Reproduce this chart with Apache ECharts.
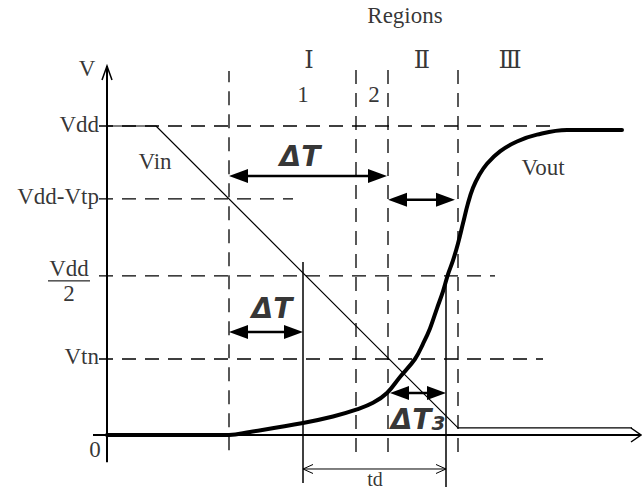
<!DOCTYPE html>
<html><head><meta charset="utf-8">
<script src="https://cdn.jsdelivr.net/npm/echarts@6/dist/echarts.min.js"></script>
<style>html,body{margin:0;padding:0;background:#fff}#c{width:642px;height:490px}</style>
</head><body><div id="c"></div>
<script>
// ---------------- data (time in arbitrary units, voltage as fraction of Vdd) ----------------
const vinTime = [0, 4.9, 35.1, 52.5];
const vinVolt = [1, 1, 0.023, 0.023];
const voutTime = [0, 12.2, 14.3, 19.6, 22.6, 25.0, 26.6, 28.0, 29.3, 30.8, 31.6, 32.3, 33.0, 33.6, 34.1, 34.6, 35.1, 35.6, 36.1, 36.6, 37.2, 38.0, 39.3, 41.0, 43.0, 46.0, 51.5];
const voutVolt = [0, 0, 0.010, 0.039, 0.060, 0.083, 0.104, 0.136, 0.188, 0.246, 0.295, 0.345, 0.410, 0.465, 0.520, 0.565, 0.620, 0.685, 0.750, 0.800, 0.840, 0.878, 0.918, 0.950, 0.972, 0.987, 0.987];
const levelValues = [1, 0.764, 0.515, 0.246, 0];
const levelLabels = ['Vdd', 'Vdd-Vtp', 'Vdd/2', 'Vtn', '0'];
const levelGuideEnd = [44.3, 18.6, 38.8, 43.6, null];
const boundaryTimes = [12.2, 24.9, 28.1, 35.1];
const boundaryTop = [1.178, 1.188, 1.207, 1.207];
const boundaryBottom = [-0.049, -0.055, -0.055, -0.055];
const markerTimes = [19.6, 33.9];
const markerTop = [0.56, 0.508];
const markerBottom = [-0.155, -0.168];
const regionNames = ['Ⅰ', 'Ⅱ', 'Ⅲ'];
const regionNameTimes = [20.2, 31.5, 40.3];
const subRegionNames = ['1', '2'];
const subRegionTimes = [19.6, 26.7];
const dimArrowStart = [12.2, 28.1, 12.2, 28.3];
const dimArrowEnd = [28.0, 34.8, 19.6, 33.9];
const dimArrowLevel = [0.838, 0.761, 0.333, 0.136];
const dimLabels = ['ΔT', 'ΔT', 'ΔT₃'];
const dimLabelTime = [19.3, 16.5, 31.1];
const dimLabelVolt = [0.906, 0.414, 0.055];
const tdArrow = [19.6, 33.9, -0.110];
const axisLines = [[0, -0.088, 0, 1.194], [-1.4, 0, 53.4, 0]];

// ---------------- helpers ----------------
const SERIF = 'Liberation Serif';
const FS = 23;
const pair = (xs, ys) => xs.map((x, i) => [x, ys[i]]);
function guide(points, dashed, width) {
  return { type: 'line', data: points, symbol: 'none', silent: true, z: 1,
    lineStyle: { color: '#000', width: width || 1.3, type: dashed ? [14, 9] : 'solid' } };
}
function head(tip, from, L, W) {
  const dx = tip[0] - from[0], dy = tip[1] - from[1], len = Math.hypot(dx, dy);
  const ux = dx / len, uy = dy / len, nx = -uy, ny = ux;
  const bx = tip[0] - ux * L, by = tip[1] - uy * L;
  return [[bx + nx * W, by + ny * W], tip, [bx - nx * W, by - ny * W]];
}
function txt(t, v, text, extra) {
  return { value: [t, v], label: Object.assign({ show: true, formatter: text, position: 'inside',
    color: '#000', fontFamily: SERIF, fontSize: FS, offset: [0, -2] }, extra || {}) };
}

const series = [];
levelValues.forEach((v, i) => {
  if (levelGuideEnd[i] !== null) series.push(guide([[-0.8, v], [levelGuideEnd[i], v]], true));
});
boundaryTimes.forEach((t, i) => series.push(guide([[t, boundaryBottom[i]], [t, boundaryTop[i]]], true)));
markerTimes.forEach((t, i) => series.push(guide([[t, markerBottom[i]], [t, markerTop[i]]], false, 1.5)));

series.push({ type: 'line', name: 'Vin', data: pair(vinTime, vinVolt), symbol: 'none', silent: true, z: 3,
  lineStyle: { color: '#000', width: 1.2 } });
series.push({ type: 'line', name: 'Vout', data: pair(voutTime, voutVolt), symbol: 'none', silent: true, z: 4,
  smooth: 0.4, lineStyle: { color: '#000', width: 4, cap: 'round', join: 'round' } });

series.push({ type: 'custom', silent: true, z: 5, data: axisLines,
  renderItem: (params, api) => {
    const a = api.coord([api.value(0), api.value(1)]);
    const b = api.coord([api.value(2), api.value(3)]);
    const vertical = params.dataIndex === 0;
    const h = head(b, a, vertical ? 14 : 10, vertical ? 5 : 7);
    return { type: 'group', children: [
      { type: 'line', shape: { x1: a[0], y1: a[1], x2: b[0], y2: b[1] }, style: { stroke: '#000', lineWidth: 2 } },
      { type: 'polyline', shape: { points: h }, style: { stroke: '#000', lineWidth: 1.5, fill: null } }
    ] };
  } });

series.push({ type: 'custom', silent: true, z: 6,
  data: dimArrowStart.map((s, i) => [s, dimArrowEnd[i], dimArrowLevel[i]]),
  renderItem: (params, api) => {
    const a = api.coord([api.value(0), api.value(2)]);
    const b = api.coord([api.value(1), api.value(2)]);
    const L = 19, W = 7;
    return { type: 'group', children: [
      { type: 'line', shape: { x1: a[0] + L / 2, y1: a[1], x2: b[0] - L / 2, y2: b[1] }, style: { stroke: '#000', lineWidth: 2.5 } },
      { type: 'polygon', shape: { points: head(a, b, L, W) }, style: { fill: '#000' } },
      { type: 'polygon', shape: { points: head(b, a, L, W) }, style: { fill: '#000' } }
    ] };
  } });

series.push({ type: 'custom', silent: true, z: 6, data: [tdArrow],
  renderItem: (params, api) => {
    const a = api.coord([api.value(0), api.value(2)]);
    const b = api.coord([api.value(1), api.value(2)]);
    return { type: 'group', children: [
      { type: 'line', shape: { x1: a[0], y1: a[1], x2: b[0], y2: b[1] }, style: { stroke: '#000', lineWidth: 1 } },
      { type: 'polyline', shape: { points: head(a, b, 10, 4.5) }, style: { stroke: '#000', lineWidth: 1, fill: null } },
      { type: 'polyline', shape: { points: head(b, a, 10, 4.5) }, style: { stroke: '#000', lineWidth: 1, fill: null } }
    ] };
  } });

const texts = [];
levelValues.forEach((v, i) => {
  const lab = levelLabels[i];
  if (lab === '0') {
    texts.push(txt(-1.2, -0.055, '0'));
  } else if (lab.indexOf('/') >= 0) {
    const parts = lab.split('/');
    texts.push(txt(-1.7, v, '{n|' + parts[0] + '}\n{hr|}\n{d|' + parts[1] + '}', {
      position: 'left', distance: 0, offset: [0, 6],
      rich: { n: { width: 42, align: 'center', lineHeight: 22, fontSize: FS, fontFamily: SERIF, color: '#000' },
              hr: { width: '100%', height: 0, borderColor: '#000', borderWidth: 0.8, lineHeight: 2 },
              d: { width: 42, align: 'center', lineHeight: 24, fontSize: FS, fontFamily: SERIF, color: '#000' } } }));
  } else {
    texts.push(txt(-0.8, v, lab, { position: 'left', distance: 0 }));
  }
});
texts.push(txt(-2.0, 1.181, 'V'));
texts.push(txt(29.8, 1.350, 'Regions'));
regionNames.forEach((r, i) => texts.push(txt(regionNameTimes[i], 1.207, r, { fontFamily: "'DejaVu Serif','Noto Sans CJK JP'", fontSize: 24 })));
subRegionNames.forEach((r, i) => texts.push(txt(subRegionTimes[i], 1.094, r)));
texts.push(txt(4.8, 0.880, 'Vin'));
texts.push(txt(43.6, 0.858, 'Vout'));
texts.push(txt(26.8, -0.144, 'td', { fontSize: 20, offset: [0, 0] }));
dimLabels.forEach((d, i) => {
  const m = d.replace('₃', '');
  const sub = d.indexOf('₃') >= 0;
  texts.push(txt(dimLabelTime[i], dimLabelVolt[i], sub ? '{m|' + m + '}{s|3}' : '{m|' + m + '}', {
    offset: [0, 0],
    rich: { m: { fontFamily: 'DejaVu Sans', fontWeight: 'bold', fontStyle: 'italic', fontSize: 28, color: '#000', lineHeight: 30, verticalAlign: 'bottom' },
            s: { fontFamily: 'DejaVu Sans', fontWeight: 'bold', fontStyle: 'italic', fontSize: 20, color: '#000', lineHeight: 30, verticalAlign: 'bottom', padding: [12, 0, 0, 0] } } }));
});
series.push({ type: 'scatter', data: texts, symbolSize: 0, silent: true, z: 10, clip: false });

const chart = echarts.init(document.getElementById('c'), null, { renderer: 'svg' });
chart.setOption({
  animation: false,
  backgroundColor: '#fff',
  grid: { left: 0, right: 0, top: 0, bottom: 0 },
  xAxis: { type: 'value', min: -10.7, max: 53.5, show: false },
  yAxis: { type: 'value', min: -55 / 309, max: 435 / 309, show: false },
  series: series
});
</script></body></html>
